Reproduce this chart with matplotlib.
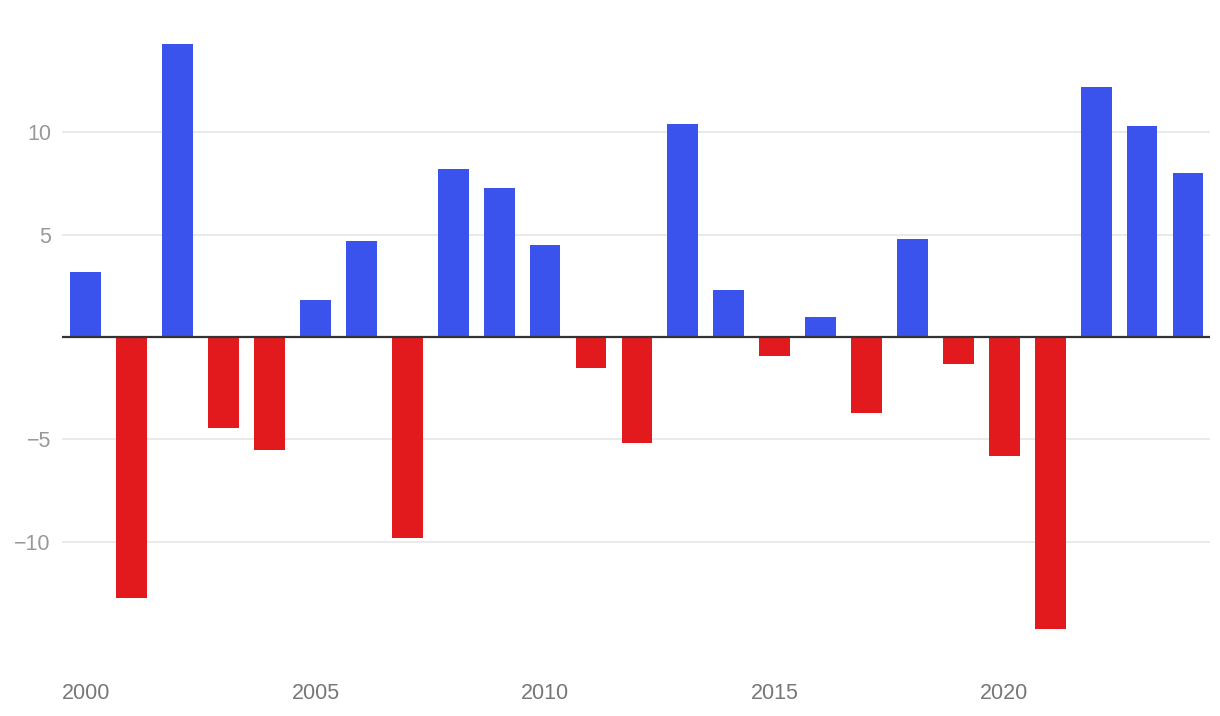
import matplotlib.pyplot as plt

plt.rcParams['font.family'] = ['Liberation Sans', 'DejaVu Sans']

years = list(range(2000, 2025))
values = [3.2, -12.75, 14.3, -4.45, -5.5, 1.8, 4.7, -9.8, 8.2, 7.3,
          4.5, -1.5, -5.2, 10.4, 2.3, -0.95, 1.0, -3.7, 4.8, -1.3,
          -5.8, -14.25, 12.2, 10.3, 8.0]
x_ticks = [2000, 2005, 2010, 2015, 2020]
y_ticks = [-10, -5, 5, 10]

# positive years blue, negative red
colors = ['#3953ec' if v >= 0 else '#e21a1e' for v in values]

fig = plt.figure(figsize=(12.2, 7.16), dpi=100)
ax = fig.add_axes([62 / 1220, 72 / 716, 1148 / 1220, 614 / 716])

ax.bar(years, values, width=0.67, color=colors, zorder=2)
ax.axhline(0, color='#333333', linewidth=1.6, zorder=3)

ax.set_xlim(1999.48, 2024.48)
ax.set_ylim(-15, 15)
ax.set_yticks(y_ticks)
ax.set_yticklabels(['\u221210', '\u22125', '5', '10'])
ax.set_xticks(x_ticks)
ax.grid(axis='y', color='#e6e6e6', linewidth=1.2, zorder=0)
ax.set_axisbelow(True)

for s in ax.spines.values():
    s.set_visible(False)
ax.tick_params(axis='y', length=0, pad=8, labelsize=15.5, labelcolor='#999999')
ax.tick_params(axis='x', length=0, pad=28, labelsize=15.5, labelcolor='#777777')

fig.savefig('out.png', dpi=100)
